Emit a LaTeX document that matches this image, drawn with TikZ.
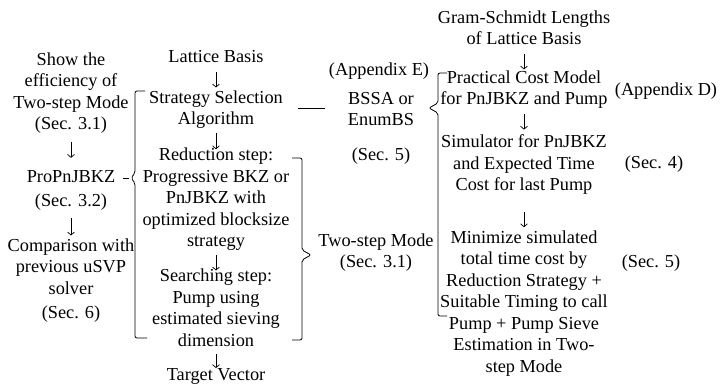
\documentclass[tikz,border=0pt]{standalone}
\usepackage{fontspec}
\setmainfont{Liberation Serif}
\usetikzlibrary{arrows.meta}
\tikzstyle{txt}=[align=center,inner sep=0,font=\fontsize{18.3}{21.5}\selectfont,execute at begin node=\strut,execute at end node=\strut]
\tikzstyle{arrow}=[line width=0.7pt,-{Straight Barb[length=3pt,width=7pt]},shorten <=2pt,shorten >=0pt]
\tikzstyle{bracket}=[line width=0.8pt,rounded corners=2pt]
\begin{document}
\begin{tikzpicture}[x=1pt,y=-1pt]
\useasboundingbox (0,0) rectangle (727,383);

% left column
\node[txt] (show) at (71,94.5) {Show the\\efficiency of\\Two-step Mode\\(Sec. 3.1)};
\node[txt] (propn) at (71,191.5) {ProPnJBKZ\\[3pt](Sec. 3.2)};
\node[txt] (compare) at (71,282) {Comparison with\\previous uSVP\\solver\\[3pt](Sec. 6)};
\draw[arrow,shorten <=5pt,shorten >=12pt] (show) -- (propn);
\draw[arrow,shorten <=5pt,shorten >=3pt] (propn) -- (compare);

% main flow
\node[txt] (basis) at (216,58) {Lattice Basis};
\node[txt] (ssa) at (216,111) {Strategy Selection\\Algorithm};
\node[txt] (red) at (216,200.5) {Reduction step:\\Progressive BKZ or\\PnJBKZ with\\optimized blocksize\\strategy};
\node[txt] (search) at (216,311) {Searching step:\\Pump using\\estimated sieving\\dimension};
\node[txt] (target) at (216,376) {Target Vector};
\draw[arrow,shorten <=3pt,shorten >=3pt] (basis) -- (ssa);
\draw[arrow,shorten <=1.5pt,shorten >=-1.5pt] (ssa) -- (red);
\draw[arrow,shorten <=1.5pt,shorten >=-1.5pt] (red) -- (search);
\draw[arrow,shorten <=1pt,shorten >=-3pt] (search) -- (target);

% middle column
\node[txt] (appE) at (379,71) {(Appendix E)};
\node[txt] (bssa) at (381,112) {BSSA or\\EnumBS};
\node[txt] (secFive) at (381,156) {(Sec. 5)};
\node[txt] (two) at (376,254) {Two-step Mode\\(Sec. 3.1)};
\draw[line width=0.8pt,shorten <=15pt,shorten >=23pt] ([yshift=3pt]ssa.east) -- ([yshift=3pt]ssa.east -| bssa.west);

% cost model column
\node[txt] (gs) at (524,31) {Gram-Schmidt Lengths\\of Lattice Basis};
\node[txt] (pcm) at (524,91) {Practical Cost Model\\for PnJBKZ and Pump};
\node[txt] (sim) at (524,166) {Simulator for PnJBKZ\\and Expected Time\\Cost for last Pump};
\node[txt] (mini) at (524,304.5) {Minimize simulated\\total time cost by\\Reduction Strategy +\\Suitable Timing to call\\Pump + Pump Sieve\\Estimation in Two-\\step Mode};
\draw[arrow,shorten <=2.5pt,shorten >=1pt] (gs) -- (pcm);
\draw[arrow,shorten <=2.5pt,shorten >=5pt] (pcm) -- (sim);
\draw[arrow,shorten <=14.5pt,shorten >=3pt] (sim) -- (mini);

% references
\node[txt] (appD) at (666,91) {(Appendix D)};
\node[txt] (secFour) at (654,164) {(Sec. 4)};
\node[txt] (secFiveB) at (651,263) {(Sec. 5)};

% brackets
\coordinate (tipA) at (131,178);
\coordinate (tipB) at (311,255);
\coordinate (tipC) at (429,108);
\draw[bracket] (145,91) -- (135,91) -- (135,173) -- (tipA) -- (135,183) -- (135,338) -- (147,338);
\draw[bracket] (292,158) -- (302,158) -- (302,250) -- (tipB) -- (302,260) -- (302,340) -- (292,340);
\draw[bracket] (447,73) -- (438,73) -- (438,103) -- (tipC) -- (438,113) -- (438,316) -- (447,316);
\draw[line width=0.8pt,shorten <=8pt,shorten >=2pt] (tipA -| propn.east) -- (tipA);

\end{tikzpicture}
\end{document}
